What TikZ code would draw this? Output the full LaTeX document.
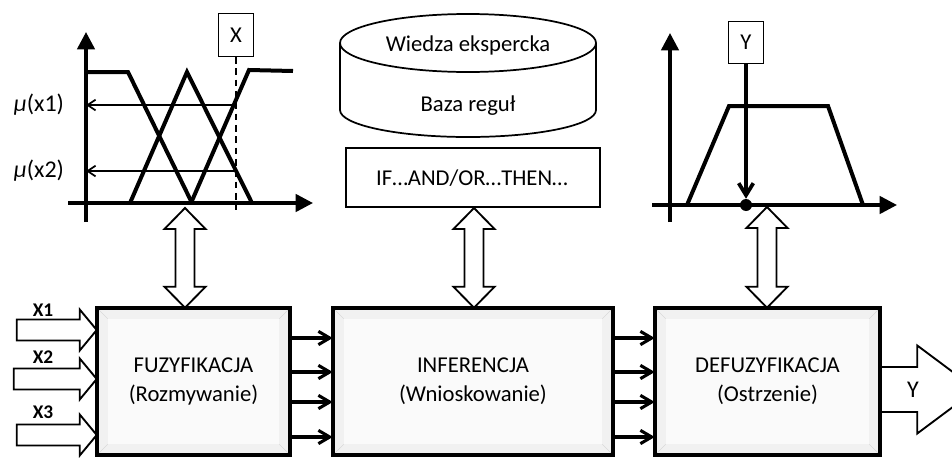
\documentclass[tikz,border=0pt]{standalone}
\usepackage{fontspec}
\setmainfont{Carlito}
\usetikzlibrary{arrows.meta,fit,calc}
\newcommand\bevelbox[1]{%
  \fill[gray!11] (#1.south west) rectangle (#1.north east);
  \fill[gray!4] ($(#1.south west)+(11,-11)$) rectangle ($(#1.north east)+(-11,11)$);
  \draw[gray!30, line width=0.4pt] (#1.south west) -- ++(11,-11) (#1.north west) -- ++(11,11)
     (#1.north east) -- ++(-11,11) (#1.south east) -- ++(-11,-11);
  \draw[line width=2.9pt] (#1.south west) rectangle (#1.north east);
}
\newcommand\dblarrow[2]{%
  \draw[hollow] let \p1=(#1), \p2=(#2) in (\p1) -- (\x1+15.4pt,\y1-15.75pt) -- (\x1+7.1pt,\y1-15.75pt)
    -- (\x1+7.1pt,\y2+15.75pt) -- (\x1+15.4pt,\y2+15.75pt) -- (\x1,\y2)
    -- (\x1-15.4pt,\y2+15.75pt) -- (\x1-7.1pt,\y2+15.75pt) -- (\x1-7.1pt,\y1-15.75pt)
    -- (\x1-15.4pt,\y1-15.75pt) -- cycle;
}
\newcommand\inarrow[2]{%
  \draw[hollow] (#1) -- ++(-17,-20.5) -- ++(0,10) -- ++(-#2,0) -- ++(0,21) -- ++(#2,0) -- ++(0,10) -- cycle;
}
\begin{document}
\begin{tikzpicture}[x=0.75pt,y=-0.75pt,
  thickline/.style={line width=3pt, line join=miter},
  axis/.style={line width=2.6pt, -{Triangle[length=13pt,width=13pt]}},
  hollow/.style={draw, line width=1.4pt, fill=white, line join=miter},
  lbl/.style={font=\fontsize{17}{22}\selectfont, align=center, inner sep=0pt},
  mulbl/.style={font=\fontsize{18}{22}\selectfont, inner sep=0pt},
  xlbl/.style={font=\fontsize{14.5}{16}\selectfont\bfseries, inner sep=0pt},
  link/.style={line width=2.3pt, -{Straight Barb[length=8.5pt,width=10pt]}},
  thinarrow/.style={line width=1.3pt, -{Straight Barb[length=6pt,width=8pt]}},
  boxed/.style={draw, line width=0.9pt, fill=white, font=\fontsize{17}{20}\selectfont, inner sep=0pt},
  ]
\useasboundingbox (0,0) rectangle (952,457);
\clip (0,0) rectangle (952,457);

% ---------- left chart (fuzzification)
\coordinate (ya1) at (86,222);
\coordinate (ya1t) at (86,32);
\coordinate (xa1) at (68,203);
\coordinate (xa1t) at (313,203);
\draw[axis] (ya1) -- (ya1t);
\draw[axis] (xa1) -- (xa1t);
\draw[thickline] (86,72) -- (128,72) -- (192,203);
\draw[thickline] (130,203) -- (187,72) -- (252,203);
\draw[thickline] (191,203) -- (249,70) -- (293,71);
\node[boxed, minimum width=26pt, minimum height=32pt] (xbox) at (236,35) {X};
\coordinate (dashend) at (236,210);
\draw[dashed, dash pattern=on 5pt off 3.5pt, line width=1.2pt] (xbox.south) -- (dashend);
\coordinate (m1) at (236,105);
\coordinate (m2) at (236,171);
\draw[thinarrow] (m1) -- (m1 -| ya1);
\draw[thinarrow] (m2) -- (m2 -| ya1);
\node[mulbl] (mu1) at (39,105) {\textit{μ}(x1)};
\node[mulbl] (mu2) at (39,171) {\textit{μ}(x2)};

% ---------- rule base
\draw[line width=1.3pt, fill=white] (340,43) -- (340,110) arc[start angle=180, end angle=0, x radius=128, y radius=27] -- (596,43);
\draw[line width=1.3pt, fill=white] (468,43) ellipse [x radius=128, y radius=29];
\node[lbl] (wiedza) at (468,45) {Wiedza ekspercka};
\node[lbl] (baza) at (468,106) {Baza reguł};
\node[fit={(346,148) (600,207)}, inner sep=0pt, draw, line width=0.9pt] (ifbox) {};
\node[lbl] (iftext) at (472,178) {IF…AND/OR…THEN…};

% ---------- right chart (defuzzification)
\coordinate (ya3) at (670,222);
\coordinate (ya3t) at (670,33);
\coordinate (xa3) at (652,205);
\coordinate (xa3t) at (897,205);
\draw[axis] (ya3) -- (ya3t);
\draw[axis] (xa3) -- (xa3t);
\draw[thickline] (687,205) -- (729,106) -- (828,106) -- (863,205);
\node[boxed, minimum width=26pt, minimum height=31pt] (ybox) at (746,42.5) {Y};
\node[circle, fill, inner sep=0pt, minimum size=9pt] (dot) at (746,205) {};
\draw[line width=2.8pt, -{Straight Barb[length=9pt,width=11pt]}] (ybox.south) -- (dot.north);

% ---------- blocks
\node[fit={(97,308) (290,455)}, inner sep=0pt] (fuz) {};
\node[fit={(333,308) (613,455)}, inner sep=0pt] (inf) {};
\node[fit={(655,308) (880,455)}, inner sep=0pt] (def) {};

% output arrow Y
\coordinate (yo) at (def.east |- 0,389.5);
\draw[hollow] (yo) ++(-3,-22.5) -- ++(40,0) -- ++(0,-21.5) -- ++(59,44) -- ++(-59,44) -- ++(0,-21.5) -- ++(-40,0);
\node[lbl, font=\fontsize{18}{20}\selectfont] (ylab) at (913,390) {Y};

% input arrows
\coordinate (t1) at (fuz.west |- 0,330);
\coordinate (t2) at (fuz.west |- 0,379);
\coordinate (t3) at (fuz.west |- 0,435);
\inarrow{t1}{63}
\inarrow{t2}{66}
\inarrow{t3}{63}
\node[xlbl] (x1) at (43,310) {X1};
\node[xlbl] (x2) at (43,357) {X2};
\node[xlbl] (x3) at (43,412) {X3};

\bevelbox{fuz}
\bevelbox{inf}
\bevelbox{def}
\node[lbl] at (fuz.center) {FUZYFIKACJA\\(Rozmywanie)};
\node[lbl] at (inf.center) {INFERENCJA\\(Wnioskowanie)};
\node[lbl] at (def.center) {DEFUZYFIKACJA\\(Ostrzenie)};

% links between blocks
\foreach \yy in {338,372,402,437}{
  \draw[link] (fuz.east |- 0,\yy) -- (inf.west |- 0,\yy);
  \draw[link] (inf.east |- 0,\yy) -- (def.west |- 0,\yy);
}

% double arrows
\coordinate (d1t) at (185,208);
\coordinate (d2t) at (474,208);
\coordinate (d3t) at (767,207);
\dblarrow{d1t}{d1t |- fuz.north}
\dblarrow{d2t}{d2t |- inf.north}
\dblarrow{d3t}{d3t |- def.north}
\end{tikzpicture}
\end{document}
